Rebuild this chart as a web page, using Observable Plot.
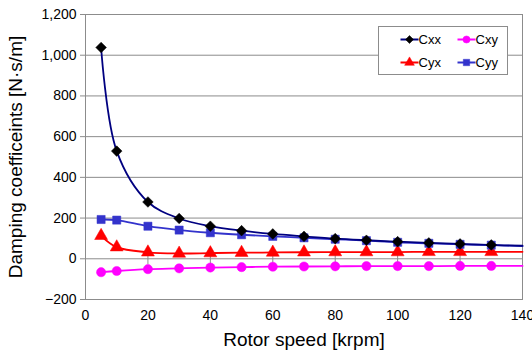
<!DOCTYPE html>
<html>
<head>
<meta charset="utf-8">
<script src="https://cdn.jsdelivr.net/npm/d3@7"></script>
<script src="https://cdn.jsdelivr.net/npm/@observablehq/plot@0.6"></script>
<style>
  body { margin: 0; background: #fff; }
  #chart { position: relative; width: 532px; height: 351px; font-family: "Liberation Sans", Arial, sans-serif; }
  #chart svg { font-family: "Liberation Sans", Arial, sans-serif; }
  g[aria-label="x-axis label"] text, g[aria-label="y-axis label"] text { font-size: 19px; }
</style>
</head>
<body>
<div id="chart"></div>
<script>
// ---- data ----
const speed = [5, 10, 20, 30, 40, 50, 60, 70, 80, 90, 100, 110, 120, 130, 140];
const Cxx = [1038, 529, 279, 198, 160, 138, 122, 110, 99, 91, 84, 78, 73, 68, 64];
const Cxy = [-66, -60, -51, -47, -43, -41, -39, -38, -37, -36, -36, -36, -35, -35, -35];
const Cyx = [113, 57, 32, 26, 28, 30, 31, 32, 33, 33, 33, 34, 34, 34, 34];
const Cyy = [193, 190, 160, 141, 128, 118, 110, 103, 96, 89, 81, 76, 71, 67, 62];
const markerMaxSpeed = 130;
const xTicks = [0, 20, 40, 60, 80, 100, 120, 140];
const yTicks = [-200, 0, 200, 400, 600, 800, 1000, 1200];
const seriesNames = ["Cxx", "Cxy", "Cyx", "Cyy"];

const seriesStyle = {
  Cxx: {line: "#000080", fill: "#000000", symbol: "diamond2", r: 4.8},
  Cxy: {line: "#FF00FF", fill: "#FF00FF", symbol: "circle", r: 4.6},
  Cyx: {line: "#FF0000", fill: "#FF0000", symbol: "triangle", r: 4.8},
  Cyy: {line: "#3333CC", fill: "#3333CC", symbol: "square", r: 4.6}
};
const values = {Cxx, Cxy, Cyx, Cyy};
const rows = name => speed.map((s, i) => ({speed: s, value: values[name][i]}));

const marks = [
  Plot.gridY(yTicks, {stroke: "#8c8c8c", strokeOpacity: 1, strokeWidth: 1}),
  Plot.frame({stroke: "#8c8c8c", strokeWidth: 1}),
  Plot.ruleX(xTicks.slice(1), {x: d => d, y1: -30, y2: 28, stroke: "#8c8c8c"}),
  Plot.axisY(yTicks, {tickFormat: d3.format(","), tickSize: 5, tickPadding: 4, fontSize: 14, stroke: "#8c8c8c",
    label: "Damping coefficeints [N·s/m]", labelAnchor: "center", labelArrow: "none", labelOffset: 77, fill: "#000"}),
  Plot.axisX(xTicks, {tickSize: 0, tickPadding: 11, fontSize: 14,
    label: "Rotor speed [krpm]", labelAnchor: "center", labelArrow: "none", labelOffset: 46, fill: "#000"})
];
for (const name of ["Cxy", "Cyx", "Cyy", "Cxx"]) {
  const st = seriesStyle[name];
  marks.push(Plot.line(rows(name), {x: "speed", y: "value", stroke: st.line, strokeWidth: 1.8, curve: "catmull-rom"}));
}
for (const name of ["Cxy", "Cyx", "Cyy", "Cxx"]) {
  const st = seriesStyle[name];
  marks.push(Plot.dot(rows(name).filter(d => d.speed <= markerMaxSpeed),
    {x: "speed", y: "value", symbol: () => st.symbol, r: st.r, fill: st.fill, stroke: st.fill, strokeWidth: 0.5}));
}

const plot = Plot.plot({
  width: 532, height: 351,
  marginLeft: 85, marginRight: 10, marginTop: 14, marginBottom: 52,
  x: {domain: [0, 140]},
  y: {domain: [-200, 1200]},
  symbol: {type: "identity"},
  marks
});
document.getElementById("chart").appendChild(plot);

// ---- legend (inside plot area, top-right) ----
const svg = d3.select(plot);
const lg = svg.append("g").attr("transform", "translate(378.5,26.5)");
lg.append("rect").attr("width", 129).attr("height", 48).attr("fill", "#fff").attr("stroke", "#8c8c8c");
const symMap = {diamond2: d3.symbolDiamond2, circle: d3.symbolCircle, triangle: d3.symbolTriangle, square: d3.symbolSquare};
seriesNames.forEach((name, i) => {
  const st = seriesStyle[name];
  const col = i % 2, row = Math.floor(i / 2);
  const x0 = 31 + col * 57, y0 = 13 + row * 23;
  const g = lg.append("g").attr("transform", `translate(${x0},${y0})`);
  g.append("line").attr("x1", -9).attr("x2", 9).attr("y1", 0).attr("y2", 0).attr("stroke", st.line).attr("stroke-width", 2);
  g.append("path").attr("d", d3.symbol(symMap[st.symbol], 3.6 * 3.6 * Math.PI)()).attr("fill", st.fill).attr("stroke", st.fill).attr("stroke-width", 0.5);
  g.append("text").attr("x", 9).attr("y", 0).attr("dy", "0.35em").attr("text-anchor", "start")
    .attr("font-size", 13).attr("fill", "#000").text(name);
});
</script>
</body>
</html>
